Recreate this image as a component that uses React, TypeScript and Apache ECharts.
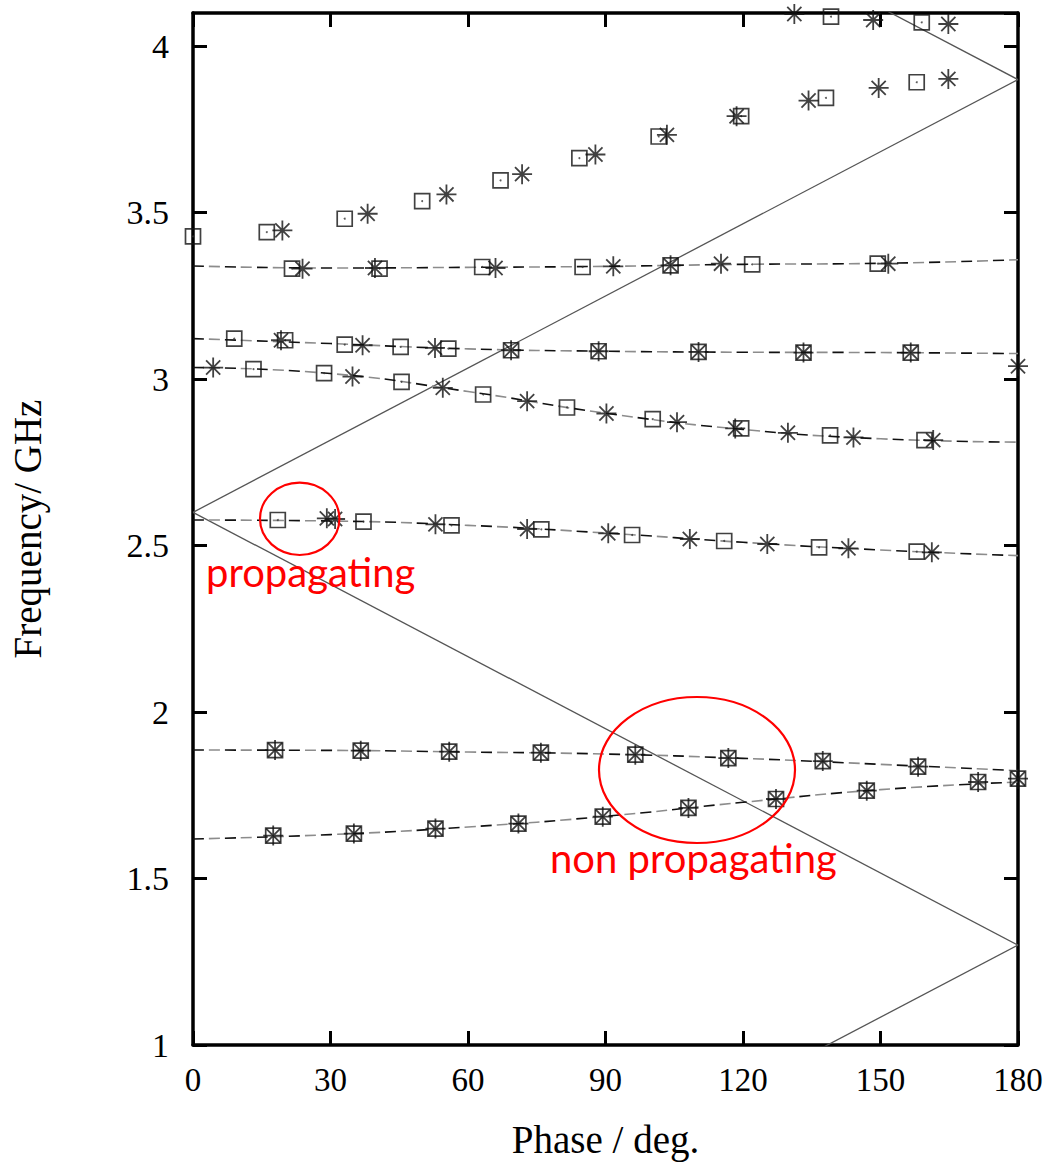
import React, { useEffect, useRef } from "react";
import * as echarts from "echarts";

// ---- data (phase in degrees, frequency in GHz) ----
const xTicks = [0, 30, 60, 90, 120, 150, 180];
const yTicks = [1, 1.5, 2, 2.5, 3, 3.5, 4];

// square markers (simulation set 1)
const squares: number[][] = [
  // upper scattered band
  [0, 3.429], [16.1, 3.442], [33.1, 3.482], [50.0, 3.535], [67.1, 3.597], [84.3, 3.664],
  [101.6, 3.729], [119.6, 3.79], [138.1, 3.845], [157.9, 3.892],
  [139.2, 4.089], [159.0, 4.072],
  // band ~3.34
  [21.6, 3.332], [40.7, 3.332], [63.1, 3.337], [85.0, 3.337], [104.2, 3.342], [122.0, 3.345], [149.4, 3.347],
  // band ~3.1
  [9.0, 3.122], [20.1, 3.117], [33.1, 3.104], [45.3, 3.097], [55.7, 3.092], [69.4, 3.087],
  [88.5, 3.084], [110.3, 3.082], [133.2, 3.08], [156.6, 3.08],
  // band ~2.9
  [13.2, 3.03], [28.6, 3.018], [45.5, 2.992], [63.3, 2.954], [81.6, 2.915], [100.3, 2.88],
  [119.6, 2.852], [139.0, 2.831], [159.6, 2.817],
  // band ~2.55
  [18.5, 2.577], [37.2, 2.572], [56.4, 2.561], [76.0, 2.549], [95.8, 2.532], [115.9, 2.514],
  [136.6, 2.495], [157.9, 2.482],
  // band ~1.87
  [17.9, 1.886], [36.6, 1.884], [55.9, 1.881], [75.9, 1.878], [96.5, 1.872], [116.8, 1.862],
  [137.4, 1.853], [158.2, 1.836],
  // band ~1.7
  [17.5, 1.629], [35.1, 1.635], [52.9, 1.65], [71.0, 1.665], [89.4, 1.686], [108.1, 1.712],
  [127.2, 1.739], [147.0, 1.764], [171.3, 1.79], [180, 1.8],
];

// asterisk markers (simulation set 2)
const asterisks: number[][] = [
  [19.5, 3.447], [38.1, 3.497], [55.3, 3.555], [71.8, 3.616], [87.8, 3.675], [103.4, 3.734],
  [118.6, 3.79], [134.3, 3.837], [149.6, 3.875], [164.8, 3.902],
  [131.2, 4.097], [148.4, 4.079], [164.8, 4.067],
  [23.9, 3.332], [39.7, 3.334], [66.0, 3.334], [91.7, 3.339], [104.2, 3.342], [115.2, 3.347], [151.7, 3.347],
  [19.2, 3.117], [37.0, 3.102], [52.8, 3.094], [69.4, 3.087], [88.5, 3.084], [110.3, 3.082],
  [133.2, 3.08], [156.6, 3.08],
  [4.4, 3.035], [34.8, 3.008], [54.5, 2.974], [72.9, 2.934], [90.2, 2.897], [105.6, 2.871],
  [118.3, 2.852], [129.8, 2.839], [144.1, 2.825], [161.5, 2.817], [180, 3.039],
  [29.2, 2.582], [31.0, 2.58], [52.9, 2.564], [72.9, 2.55], [90.6, 2.537], [108.4, 2.52],
  [125.3, 2.505], [143.0, 2.492], [161.2, 2.48],
  [17.9, 1.886], [36.6, 1.884], [55.9, 1.881], [75.9, 1.878], [96.5, 1.872], [116.8, 1.862],
  [137.4, 1.853], [158.2, 1.836],
  [17.5, 1.629], [35.1, 1.635], [52.9, 1.65], [71.0, 1.665], [89.4, 1.686], [108.1, 1.712],
  [127.2, 1.739], [147.0, 1.764], [171.3, 1.79], [180, 1.8],
];

// fitted dispersion curves (dashed)
const fitPhase = [0, 30, 60, 90, 120, 150, 180];
const fitA = [1.619, 1.632, 1.655, 1.687, 1.729, 1.767, 1.79];
const fitB = [1.886, 1.885, 1.88, 1.874, 1.861, 1.843, 1.824];
const fitC = [2.577, 2.574, 2.561, 2.538, 2.51, 2.487, 2.47];
const fitD = [3.035, 3.017, 2.963, 2.898, 2.849, 2.821, 2.811];
const fitE = [3.122, 3.107, 3.091, 3.084, 3.081, 3.08, 3.077];
const fitF = [3.34, 3.334, 3.336, 3.339, 3.345, 3.348, 3.359];
const fits = [fitA, fitB, fitC, fitD, fitE, fitF];

// light lines (solid)
const lightLines: number[][][] = [
  [[0, 2.6], [180, 3.9]],
  [[0, 2.6], [180, 1.3]],
  [[120, 4.333], [180, 3.9]],
  [[120, 0.867], [180, 1.3]],
];

const SERIF = "'Liberation Serif', 'Times New Roman', serif";
const ASTERISK = "path://M10,0L10,20M0,10L20,10M2.93,2.93L17.07,17.07M17.07,2.93L2.93,17.07";

export default function App() {
  const ref = useRef<HTMLDivElement>(null);
  useEffect(() => {
    if (!ref.current) return;
    const chart = echarts.init(ref.current, null, { renderer: "svg" });

    const axisCommon = {
      type: "value" as const,
      axisLine: { show: true, onZero: false, lineStyle: { color: "#000", width: 3.5 } },
      axisTick: { show: true, inside: true, length: 14, lineStyle: { color: "#000", width: 3 } },
      splitLine: { show: false },
    };

    const series: any[] = [];
    lightLines.forEach((ln) =>
      series.push({
        type: "line",
        data: ln,
        symbol: "none",
        lineStyle: { color: "#555", width: 1.3 },
        z: 2,
      })
    );
    fits.forEach((f) => {
      const d = fitPhase.map((p, i) => [p, f[i]]);
      series.push({
        type: "line",
        data: d,
        smooth: 0.5,
        symbol: "none",
        lineStyle: { color: "#111", width: 1.6, type: [11, 21], dashOffset: 0 },
        z: 3,
      });
      series.push({
        type: "line",
        data: d,
        smooth: 0.5,
        symbol: "none",
        lineStyle: { color: "#8c8c8c", width: 1.6, type: [11, 21], dashOffset: -16 },
        z: 3,
      });
    });
    series.push({
      type: "scatter",
      data: squares,
      symbol: "rect",
      symbolSize: 15,
      clip: false,
      itemStyle: { color: "rgba(0,0,0,0)", borderColor: "#111", borderWidth: 1.7 },
      z: 5,
    });
    series.push({
      type: "scatter",
      data: squares,
      symbol: "circle",
      symbolSize: 2,
      clip: false,
      itemStyle: { color: "#333" },
      z: 5,
    });
    series.push({
      type: "scatter",
      data: asterisks,
      symbol: ASTERISK,
      symbolSize: 20,
      clip: false,
      itemStyle: { color: "rgba(0,0,0,0)", borderColor: "#111", borderWidth: 1.8 },
      z: 6,
    });

    chart.setOption({
      animation: false,
      backgroundColor: "#fff",
      grid: { left: 192, right: 33, top: 13, bottom: 118, containLabel: false },
      xAxis: [
        {
          ...axisCommon,
          position: "bottom",
          min: 0,
          max: 180,
          interval: 30,
          axisLabel: {
            color: "#000",
            fontFamily: SERIF,
            fontSize: 33,
            margin: 18,
            formatter: (v: number) => (xTicks.includes(v) ? String(v) : ""),
          },
          name: "Phase / deg.",
          nameLocation: "middle",
          nameGap: 75,
          nameTextStyle: { color: "#000", fontFamily: SERIF, fontSize: 39 },
        },
        {
          ...axisCommon,
          position: "top",
          min: 0,
          max: 180,
          interval: 30,
          axisLabel: { show: false },
        },
      ],
      yAxis: [
        {
          ...axisCommon,
          position: "left",
          min: 1,
          max: 4.1,
          interval: 0.5,
          axisLabel: {
            color: "#000",
            fontFamily: SERIF,
            fontSize: 34,
            margin: 24,
            showMaxLabel: false,
            formatter: (v: number) => (yTicks.includes(v) ? String(v) : ""),
          },
          name: "Frequency/ GHz",
          nameLocation: "middle",
          nameGap: 146,
          nameTextStyle: { color: "#000", fontFamily: SERIF, fontSize: 39 },
        },
        {
          ...axisCommon,
          position: "right",
          min: 1,
          max: 4.1,
          interval: 0.5,
          axisLabel: { show: false },
        },
      ],
      graphic: [
        {
          type: "ellipse",
          shape: { cx: 299.7, cy: 518.8, rx: 39.7, ry: 36.2 },
          style: { fill: "none", stroke: "#ff0000", lineWidth: 2.2 },
          z: 100,
        },
        {
          type: "ellipse",
          shape: { cx: 697, cy: 770, rx: 98, ry: 73 },
          style: { fill: "none", stroke: "#ff0000", lineWidth: 2.2 },
          z: 100,
        },
        {
          type: "text",
          x: 206,
          y: 572,
          style: {
            text: "propagating",
            fill: "#ff0000",
            font: "40px Lato, 'Open Sans', sans-serif",
            verticalAlign: "middle",
            align: "left",
          },
          z: 100,
        },
        {
          type: "text",
          x: 550,
          y: 858,
          style: {
            text: "non propagating",
            fill: "#ff0000",
            font: "40px Lato, 'Open Sans', sans-serif",
            verticalAlign: "middle",
            align: "left",
          },
          z: 100,
        },
      ],
      series,
    });
    return () => chart.dispose();
  }, []);
  return (
    <div
      ref={ref}
      style={{ position: "absolute", left: 0, top: 0, width: 1051, height: 1164 }}
    />
  );
}
